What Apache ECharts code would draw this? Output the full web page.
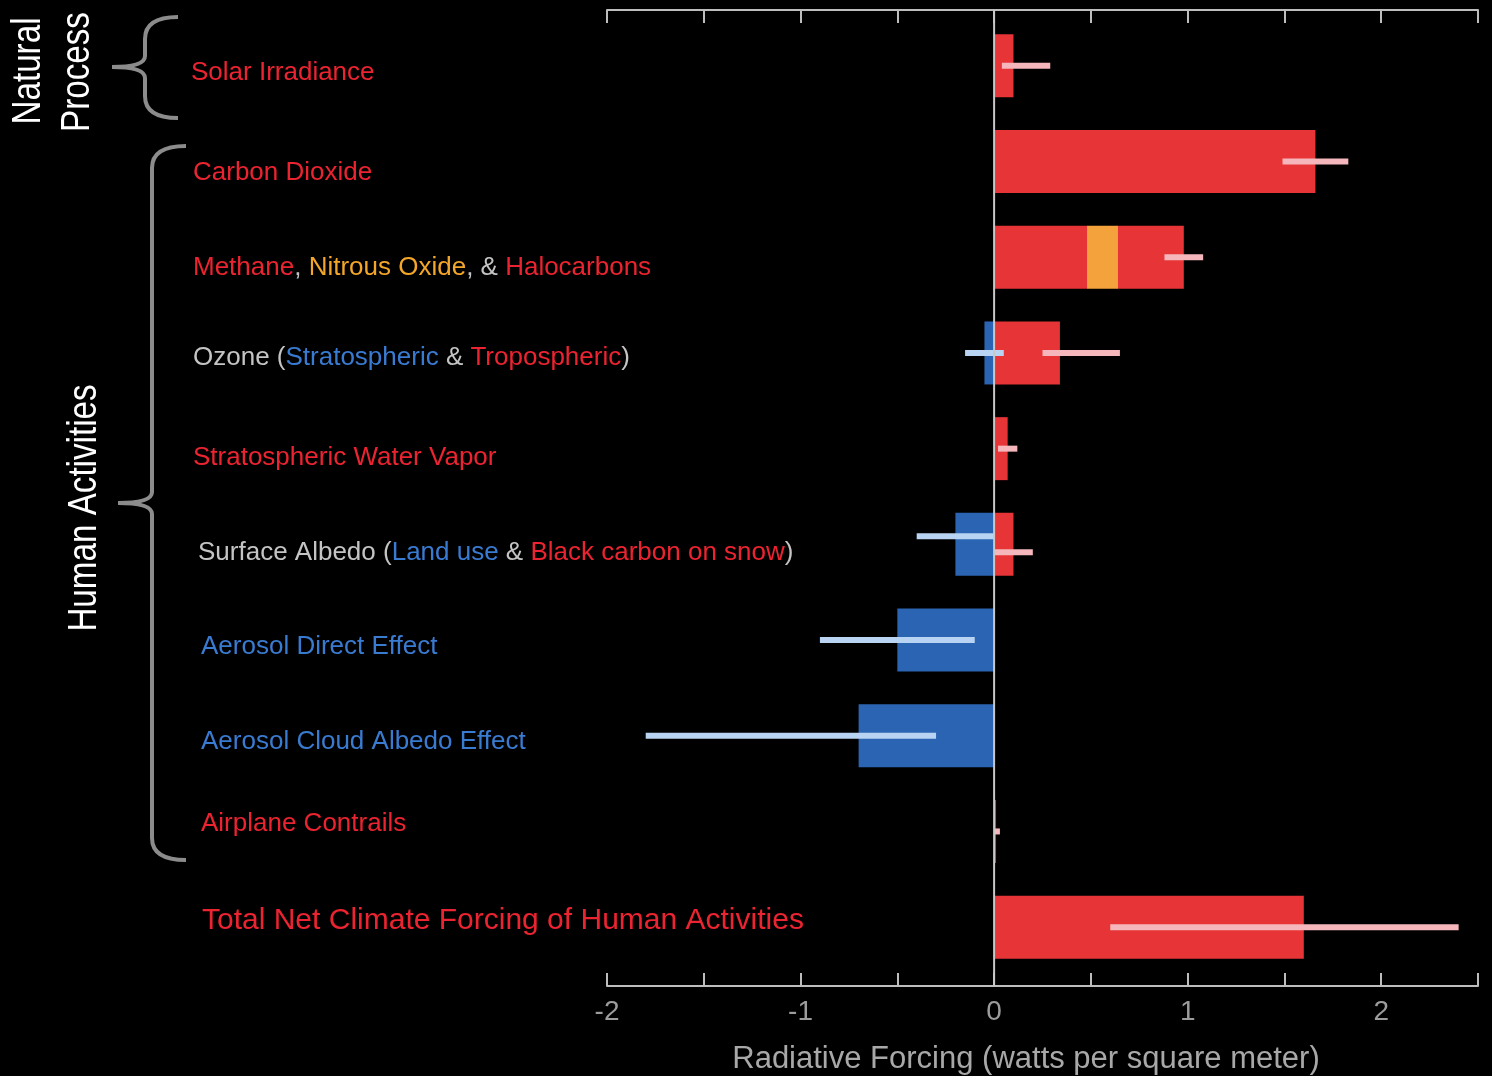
<!DOCTYPE html>
<html>
<head>
<meta charset="utf-8">
<script src="https://cdn.jsdelivr.net/npm/echarts@6/dist/echarts.min.js"></script>
<style>
  html, body { margin: 0; padding: 0; background: #000; }
  #chart { width: 1492px; height: 1076px; }
</style>
</head>
<body>
<div id="chart"></div>
<script>
// ---- data (W/m^2) ----
const categories = [
  'Solar Irradiance',
  'Carbon Dioxide',
  'Methane, Nitrous Oxide, & Halocarbons',
  'Ozone (Stratospheric & Tropospheric)',
  'Stratospheric Water Vapor',
  'Surface Albedo (Land use & Black carbon on snow)',
  'Aerosol Direct Effect',
  'Aerosol Cloud Albedo Effect',
  'Airplane Contrails',
  'Total Net Climate Forcing of Human Activities'
];
// coloured pieces of each row label: [text, colour key]
const labelParts = [
  [['Solar Irradiance', 'r']],
  [['Carbon Dioxide', 'r']],
  [['Methane', 'r'], [', ', 'g'], ['Nitrous Oxide', 'o'], [', & ', 'g'], ['Halocarbons', 'r']],
  [['Ozone (', 'g'], ['Stratospheric', 'b'], [' & ', 'g'], ['Tropospheric', 'r'], [')', 'g']],
  [['Stratospheric Water Vapor', 'r']],
  [['Surface Albedo (', 'g'], ['Land use', 'b'], [' & ', 'g'], ['Black carbon on snow', 'r'], [')', 'g']],
  [['Aerosol Direct Effect', 'b']],
  [['Aerosol Cloud Albedo Effect', 'b']],
  [['Airplane Contrails', 'r']],
  [['Total Net Climate Forcing of Human Activities', 'R']]
];
const warming      = [0.10, 1.66, 0.48, 0.34, 0.07, 0.10, null, null, 0.01, 1.60];
const nitrousOxide = [null, null, 0.16, null, null, null, null, null, null, null];
const halocarbons  = [null, null, 0.34, null, null, null, null, null, null, null];
const cooling      = [null, null, null, -0.05, null, -0.20, -0.50, -0.70, null, null];
const warmingRange = [[0.04, 0.29], [1.49, 1.83], [0.88, 1.08], [0.25, 0.65], [0.02, 0.12],
                      [0.00, 0.20], null, null, [0.003, 0.03], [0.60, 2.40]];
const coolingRange = [null, null, null, [-0.15, 0.05], null, [-0.40, 0.00],
                      [-0.90, -0.10], [-1.80, -0.30], null, null];
const tickLabels = [-2, -1, 0, 1, 2];

// ---- styling ----
const FONT = "'Liberation Sans', Arial, sans-serif";
const RED = '#e63437', ORANGE = '#f4a23b', BLUE = '#2b64b2';
const PINK = '#f5b7bb', LIGHTBLUE = '#b8d4f2';
const GREY_LINE = '#bdbdbd';
const textColors = { r: '#ec2330', o: '#f4a62a', b: '#3a7bd2', g: '#c4c4c4', R: '#ec2330' };
// per-row label tweaks: left indent and vertical nudge (px)
const labelIndent = [0, 2, 2, 2, 2, 7, 10, 10, 10, 11];
const labelNudge  = [7, 11, 11, 5, 9, 8, 7, 6, -8, -6];
// rows carrying two error bars get them split above/below the centre
const splitRows = { 5: 8 };

const rich = {};
Object.keys(textColors).forEach(k => {
  rich[k] = { color: textColors[k], fontSize: k === 'R' ? 30 : 26, fontFamily: FONT };
});

function rangeData(list) {
  const out = [];
  list.forEach((r, i) => { if (r) out.push([r[0], r[1], i]); });
  return out;
}

function errorBar(color, lane) {
  return function (params, api) {
    const row = api.value(2);
    const a = api.coord([api.value(0), row]);
    const b = api.coord([api.value(1), row]);
    const h = 6;
    const dy = (splitRows[row] || 0) * lane;
    return {
      type: 'rect',
      shape: { x: a[0], y: a[1] - h / 2 + dy, width: Math.max(b[0] - a[0], 3), height: h },
      style: { fill: color }
    };
  };
}

const barCommon = { type: 'bar', stack: 'forcing', barWidth: 63, silent: true };

const chart = echarts.init(document.getElementById('chart'), null, { renderer: 'canvas' });

const xCommon = {
  type: 'value', min: -2, max: 2.5, interval: 0.5,
  splitLine: { show: false },
  axisLine: { show: true, lineStyle: { color: GREY_LINE, width: 2 } },
  axisTick: { show: true, inside: true, length: 13, lineStyle: { color: GREY_LINE, width: 2 } }
};

chart.setOption({
  backgroundColor: '#000',
  animation: false,
  grid: { left: 607, right: 14, top: 18, bottom: 101, containLabel: false, outerBoundsMode: 'none' },
  xAxis: [
    Object.assign({}, xCommon, {
      position: 'bottom', offset: 11,
      axisLabel: {
        color: '#9c9c9c', fontSize: 28, fontFamily: FONT, margin: 12,
        formatter: v => (tickLabels.indexOf(v) >= 0 ? String(v) : '')
      },
      name: 'Radiative Forcing (watts per square meter)',
      nameLocation: 'middle', nameGap: 58,
      nameTextStyle: { color: '#a8a8a8', fontSize: 31, fontFamily: FONT, padding: [0, 33, 0, 0] }
    }),
    Object.assign({}, xCommon, {
      position: 'top', offset: 8,
      axisLabel: { show: false }
    })
  ],
  yAxis: {
    type: 'category', inverse: true,
    data: categories.map((c, i) => ({
      value: c,
      textStyle: {
        align: 'left',
        verticalAlign: 'middle',
        padding: labelNudge[i] >= 0
          ? [labelNudge[i] * 2, 0, 0, labelIndent[i]]
          : [0, 0, -labelNudge[i] * 2, labelIndent[i]]
      }
    })),
    axisLine: { show: false, onZero: false },
    axisTick: { show: false },
    splitLine: { show: false },
    axisLabel: {
      align: 'left', margin: 416, fontFamily: FONT, fontSize: 26,
      formatter: (v, i) => labelParts[i].map(p => '{' + p[1] + '|' + p[0] + '}').join(''),
      rich: rich
    }
  },
  series: [
    Object.assign({}, barCommon, { name: 'Warming', data: warming, itemStyle: { color: RED } }),
    Object.assign({}, barCommon, { name: 'Nitrous Oxide', data: nitrousOxide, itemStyle: { color: ORANGE } }),
    Object.assign({}, barCommon, { name: 'Halocarbons', data: halocarbons, itemStyle: { color: RED } }),
    Object.assign({}, barCommon, { name: 'Cooling', data: cooling, itemStyle: { color: BLUE } }),
    {
      type: 'custom', name: 'Cooling range', z: 4, silent: true, clip: false,
      renderItem: errorBar(LIGHTBLUE, -1),
      encode: { x: [0, 1], y: 2 },
      data: rangeData(coolingRange)
    },
    {
      type: 'custom', name: 'Warming range', z: 4, silent: true, clip: false,
      renderItem: errorBar(PINK, 1),
      encode: { x: [0, 1], y: 2 },
      data: rangeData(warmingRange)
    }
  ]
});

// zero line spanning between the two axes, plus group braces and titles
const x0 = chart.convertToPixel({ xAxisIndex: 0 }, 0);
const BRACE = { stroke: '#8c8c8c', lineWidth: 4, fill: null };

// curly brace built from quadratic curves and straight runs
function brace(r, v, t, a, b, m, c) {
  const seg = [];
  const curve = (x1, y1, cx, cy, x2, y2) => seg.push({
    type: 'bezierCurve', silent: true,
    shape: { x1: x1, y1: y1, cpx1: cx, cpy1: cy, x2: x2, y2: y2 }, style: BRACE
  });
  const line = (x1, y1, x2, y2) => seg.push({
    type: 'line', silent: true, shape: { x1: x1, y1: y1, x2: x2, y2: y2 }, style: BRACE
  });
  const k = c * 0.5;
  curve(r, a, v, a, v, a + c);
  line(v, a + c, v, m - k);
  curve(v, m - k, v, m, t, m);
  curve(t, m, v, m, v, m + k);
  line(v, m + k, v, b - c);
  curve(v, b - c, v, b, r, b);
  return seg;
}

function sideTitle(text, x, y) {
  return {
    type: 'text', x: x, y: y, rotation: Math.PI / 2, scaleX: 0.83, silent: true,
    style: {
      text: text, fill: '#ffffff', font: '40px ' + FONT,
      align: 'center', verticalAlign: 'middle'
    }
  };
}

chart.setOption({
  graphic: [
    { type: 'line', z: 10, silent: true,
      shape: { x1: x0, y1: 10, x2: x0, y2: 986 },
      style: { stroke: '#c8c8c8', lineWidth: 2 } }
  ].concat(
    brace(178, 145, 112, 17, 118, 67, 22),
    brace(186, 152, 118, 146, 860, 503, 22),
    [
      sideTitle('Natural', 29, 71),
      sideTitle('Process', 78, 72),
      sideTitle('Human Activities', 85, 508)
    ]
  )
});
</script>
</body>
</html>
